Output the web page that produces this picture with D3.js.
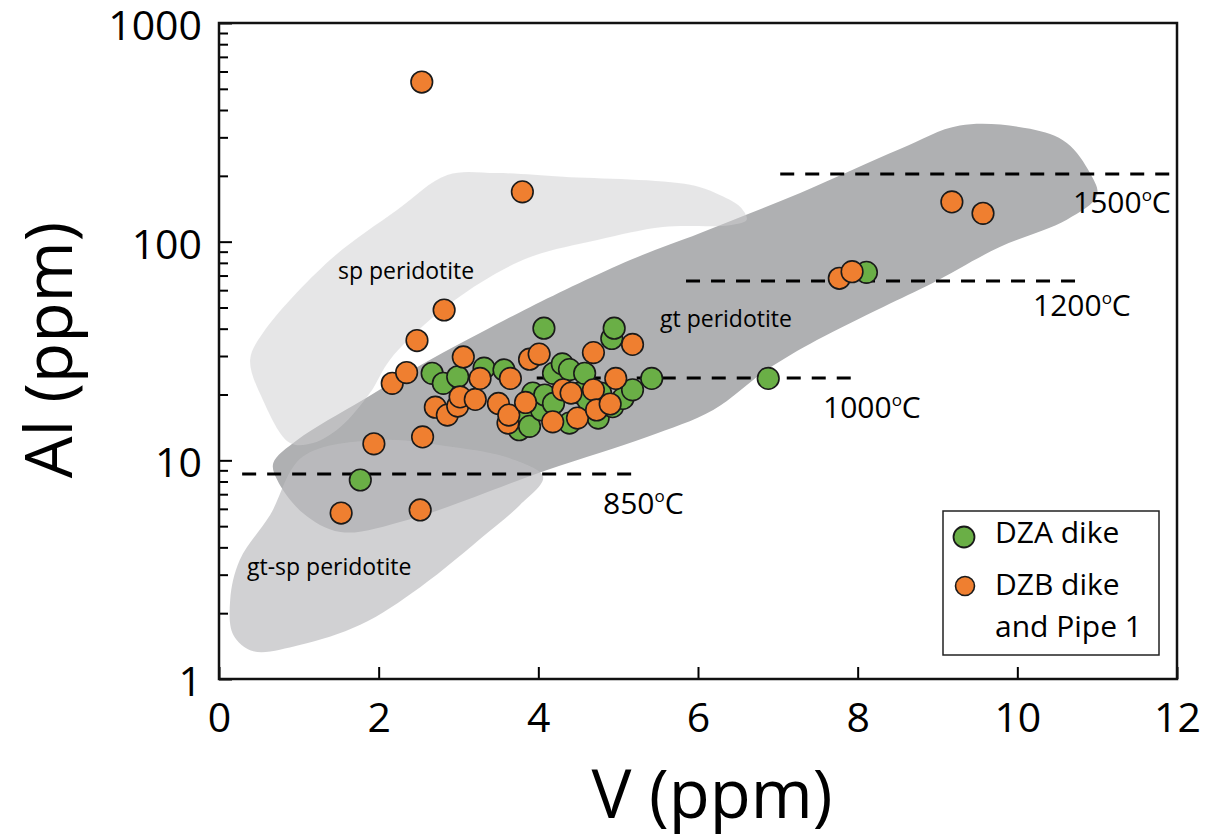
<!DOCTYPE html>
<html><head><meta charset="utf-8">
<script src="https://cdn.jsdelivr.net/npm/d3@7"></script>
<style>
html,body{margin:0;padding:0;background:#fff;}
text{font-family:"Open Sans",sans-serif;fill:#000;}
</style></head>
<body>
<svg id="chart" width="1217" height="837"></svg>
<script>
// ---- data ----
const dzaV  = [1.77,2.67,2.81,2.99,3.32,3.57,3.76,3.85,3.89,3.93,4.04,4.07,4.08,4.19,4.19,4.30,4.39,4.39,4.52,4.58,4.62,4.75,4.78,4.92,4.93,4.95,5.06,5.18,5.42,6.88,8.11];
const dzaAl = [8.13,25.0,22.5,24.1,26.4,25.9,13.8,16.4,14.3,20.3,17.0,40.2,19.9,25.0,18.2,27.6,26.0,14.8,20.3,25.0,18.9,15.6,20.3,36.1,17.6,40.2,19.2,21.0,23.7,23.7,72.4];
const dzbV  = [1.53,1.94,2.17,2.35,2.48,2.52,2.54,2.55,2.71,2.82,2.86,2.99,3.02,3.06,3.21,3.27,3.50,3.62,3.63,3.65,3.80,3.84,3.89,4.01,4.18,4.31,4.41,4.49,4.69,4.69,4.73,4.90,4.97,5.18,7.77,7.93,9.18,9.57];
const dzbAl = [5.74,11.9,22.5,25.2,35.3,5.93,537,12.8,17.5,48.7,16.1,17.7,19.5,29.7,19.0,23.7,18.2,14.8,16.1,23.7,169,18.4,29.0,30.6,15.0,21.0,20.3,15.6,31.1,21.0,17.0,18.1,23.7,33.9,68.0,72.9,152,134.8];

// field outlines (V, Al)
const gtV  = [0.68,0.98,1.80,2.64,3.27,3.90,5.15,6.03,7.28,8.53,9.28,10.16,10.62,10.91,11.00,10.62,9.78,8.94,8.32,7.49,6.86,6.19,5.36,4.11,2.36,1.52,1.05,0.73];
const gtAl = [9.72,12.4,18.9,28.8,38.2,50.3,82.4,109.6,167,265,340,328,283,206,163,126,94.6,64.7,50.3,35.5,25.9,17.0,12.8,9.03,5.34,4.70,5.74,8.13];
const spV  = [0.39,0.55,1.39,2.23,2.86,3.48,4.31,5.90,6.28,6.53,6.61,6.40,5.56,4.74,3.90,3.27,2.64,2.14,1.89,1.52,1.18,0.89,0.55];
const spAl = [28.8,38.2,82.4,139.6,202,206,198,182,163,144,126,119,116.7,101.8,85.1,64.7,43.8,28.8,20.3,14.2,12.0,12.0,18.9];
const gtspV  = [1.05,2.02,2.93,3.65,4.06,3.77,3.36,2.52,1.77,1.01,0.43,0.18,0.14,0.26,0.64];
const gtspAl = [10.4,12.4,11.5,10.2,8.39,6.25,4.65,2.63,1.77,1.43,1.34,1.59,2.30,3.50,5.62];

// isotherms
const isoLabel = ["850","1000","1200","1500"];
const isoAl    = [8.66,23.8,66.1,204];
const isoV0    = [0.29,3.98,5.85,7.03];
const isoV1    = [5.19,7.93,10.76,12.0];

const xTicks = [0,2,4,6,8,10,12];
const yTicks = [1,10,100,1000];
const legendLabels = [["DZA dike"],["DZB dike","and Pipe 1"]];

// ---- scales ----
const svg = d3.select("#chart");
const x = d3.scaleLinear().domain([0,12]).range([219,1177]);
const y = d3.scaleLog().domain([1,1000]).range([679,23]);

const GREEN="#6aaf46", ORANGE="#ef7f30";

// fields
const area = d3.line().x(d=>x(d[0])).y(d=>y(d[1])).curve(d3.curveCatmullRomClosed.alpha(0.5));
svg.append("path").attr("d", area(d3.zip(gtV,gtAl))).attr("fill","#afb0b2");
svg.append("path").attr("d", area(d3.zip(gtspV,gtspAl))).attr("fill","rgb(190,190,192)").attr("fill-opacity",0.7);
svg.append("path").attr("d", area(d3.zip(spV,spAl))).attr("fill","rgb(206,206,207)").attr("fill-opacity",0.51);

// field labels
svg.append("text").attr("x",338).attr("y",279).attr("font-size",23).text("sp peridotite");
svg.append("text").attr("x",660).attr("y",327).attr("font-size",23).text("gt peridotite");
svg.append("text").attr("x",247).attr("y",575).attr("font-size",23).text("gt-sp peridotite");

// isotherms
isoLabel.forEach((lab,i)=>{
  svg.append("line").attr("x1",x(isoV0[i])).attr("x2",x(isoV1[i]))
    .attr("y1",y(isoAl[i])).attr("y2",y(isoAl[i]))
    .attr("stroke","#000").attr("stroke-width",3).attr("stroke-dasharray","14,11");
});
const isoPos = [[603,514],[823,418],[1033,316],[1073,213]];
isoLabel.forEach((lab,i)=>{
  const t = svg.append("text").attr("x",isoPos[i][0]).attr("y",isoPos[i][1]).attr("font-size",30);
  t.append("tspan").text(lab);
  t.append("tspan").attr("font-size",17).attr("dy",-12).text("o");
  t.append("tspan").attr("dy",12).text("C");
});

// points
svg.append("g").selectAll("circle").data(d3.zip(dzaV,dzaAl)).join("circle")
  .attr("cx",d=>x(d[0])).attr("cy",d=>y(d[1])).attr("r",10.8)
  .attr("fill",GREEN).attr("stroke","#1a1a1a").attr("stroke-width",1.6);
svg.append("g").selectAll("circle").data(d3.zip(dzbV,dzbAl)).join("circle")
  .attr("cx",d=>x(d[0])).attr("cy",d=>y(d[1])).attr("r",10.8)
  .attr("fill",ORANGE).attr("stroke","#1a1a1a").attr("stroke-width",1.6);

// axes
const xa = svg.append("g").attr("transform","translate(0,679)")
  .call(d3.axisBottom(x).tickValues(xTicks).tickSize(-12).tickSizeOuter(0).tickPadding(24).tickFormat(d3.format("d")));
xa.select(".domain").remove();
xa.selectAll("line").attr("stroke-width",2);
xa.selectAll("text").attr("font-size",41).attr("font-family","Open Sans");

const minor = [];
[1,10,100].forEach(b=>{for(let k=2;k<=9;k++) minor.push(b*k);});
const ym = svg.append("g").attr("transform","translate(219,0)")
  .call(d3.axisLeft(y).tickValues(minor).tickSize(-9).tickSizeOuter(0).tickFormat(""));
ym.select(".domain").remove();
ym.selectAll("line").attr("stroke-width",2);
const ya = svg.append("g").attr("transform","translate(219,0)")
  .call(d3.axisLeft(y).tickValues(yTicks).tickSize(-13).tickSizeOuter(0).tickPadding(17).tickFormat(d3.format("d")));
ya.select(".domain").remove();
ya.selectAll("line").attr("stroke-width",2);
ya.selectAll("text").attr("font-size",41).attr("font-family","Open Sans").attr("dy","0.4em");

// frame
svg.append("rect").attr("x",219).attr("y",23).attr("width",958).attr("height",656)
  .attr("fill","none").attr("stroke","#111").attr("stroke-width",2.5);

// axis titles
svg.append("text").attr("x",712).attr("y",818).attr("text-anchor","middle").attr("font-size",67).text("V (ppm)");
svg.append("text").attr("transform","translate(72,350) rotate(-90)").attr("text-anchor","middle").attr("font-size",66).text("Al (ppm)");

// legend
const lg = svg.append("g");
lg.append("rect").attr("x",943).attr("y",511).attr("width",216).attr("height",144)
  .attr("fill","#fff").attr("stroke","#222").attr("stroke-width",1.5);
lg.append("circle").attr("cx",964).attr("cy",537).attr("r",10.5).attr("fill",GREEN).attr("stroke","#1a1a1a").attr("stroke-width",1.8);
lg.append("circle").attr("cx",965).attr("cy",586).attr("r",9.5).attr("fill",ORANGE).attr("stroke","#1a1a1a").attr("stroke-width",1.6);
lg.append("text").attr("x",995).attr("y",543).attr("font-size",30).text(legendLabels[0][0]);
lg.append("text").attr("x",995).attr("y",595).attr("font-size",30).text(legendLabels[1][0]);
lg.append("text").attr("x",995).attr("y",637).attr("font-size",30).text(legendLabels[1][1]);
</script>
</body></html>
